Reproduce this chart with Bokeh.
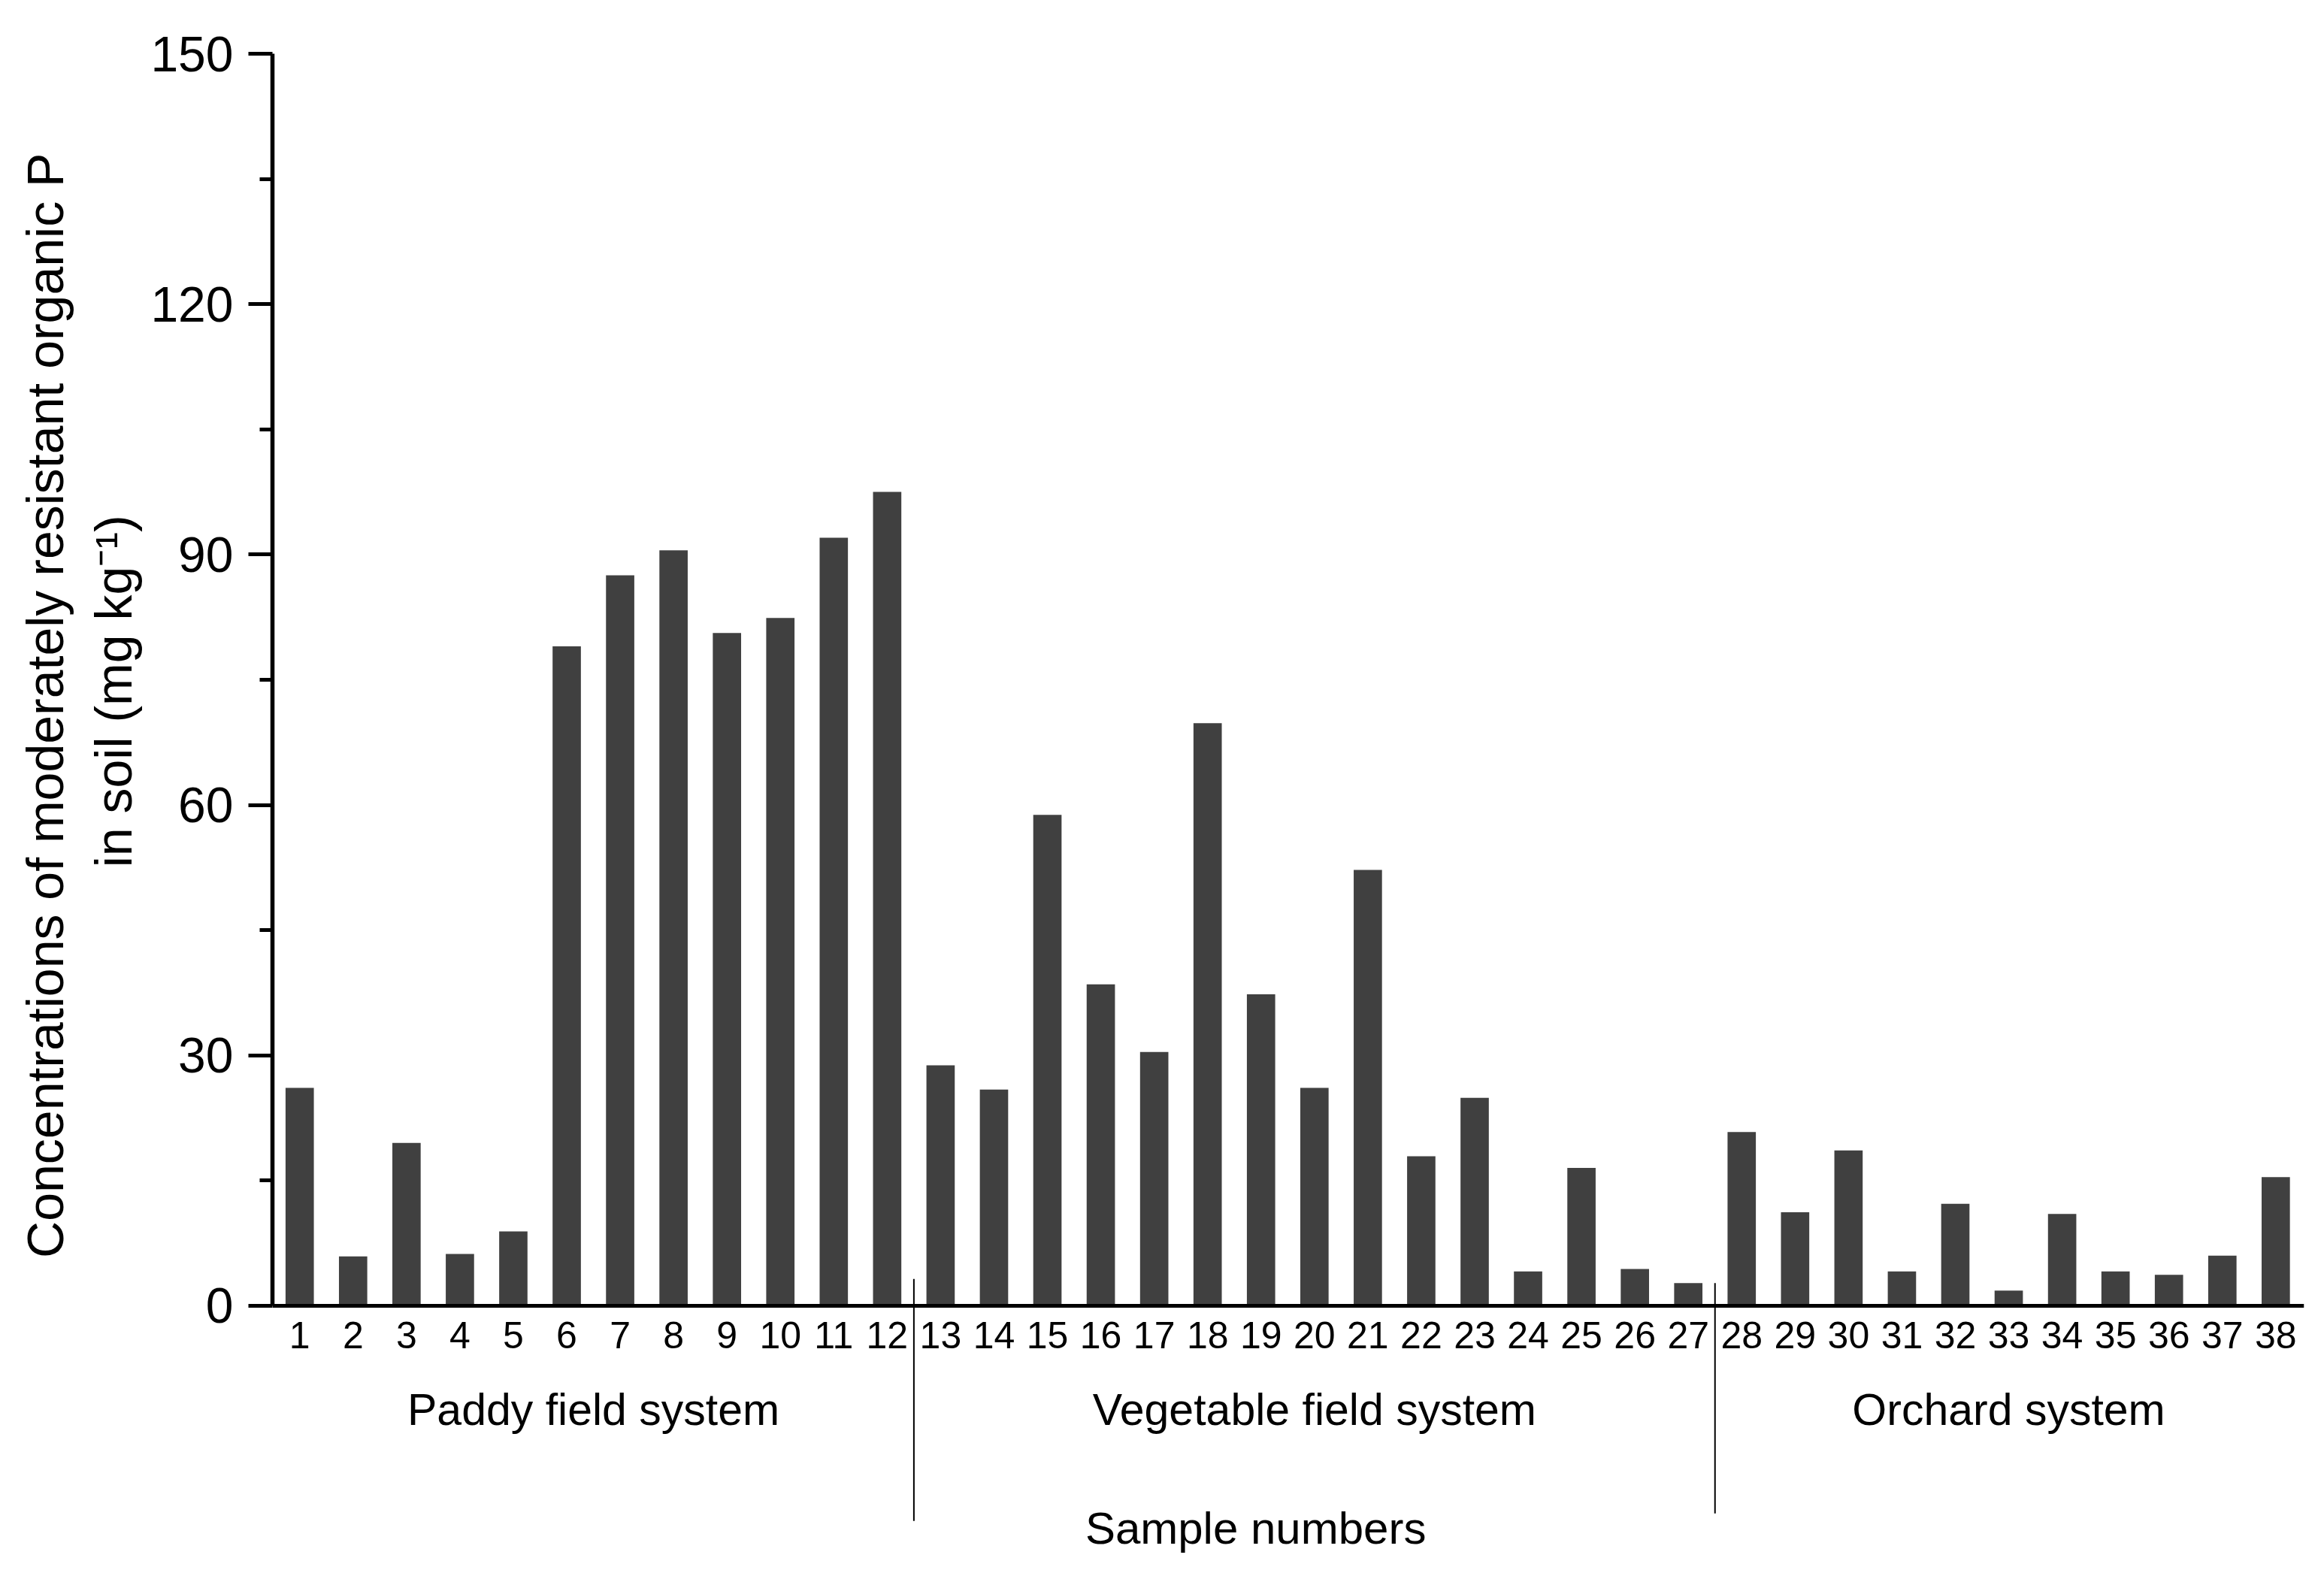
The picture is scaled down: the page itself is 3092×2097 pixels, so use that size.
from bokeh.plotting import figure
from bokeh.models import FixedTicker, Range1d, ColumnDataSource
from bokeh.core.properties import value
from bokeh.embed import file_html
from bokeh.resources import INLINE

# ---- data ----
samples = list(range(1, 39))
values = [26.1, 5.9, 19.5, 6.2, 8.9, 79.0, 87.5, 90.5, 80.6, 82.4, 92.0, 97.5,
          28.8, 25.9, 58.8, 38.5, 30.4, 69.8, 37.3, 26.1, 52.2, 17.9, 24.9, 4.1,
          16.5, 4.4, 2.7,
          20.8, 11.2, 18.6, 4.1, 12.2, 1.8, 11.0, 4.1, 3.7, 6.0, 15.4]
tick_labels = [str(s) for s in samples]
groups = ["Paddy field system", "Vegetable field system", "Orchard system"]
group_first = [1, 13, 28]
group_last = [12, 27, 38]
x_title = "Sample numbers"
y_title_1 = "Concentrations of moderately resistant organic P"
y_title_2 = "in soil (mg kg\u207b\u00b9)"
y_ticks = [0, 30, 60, 90, 120, 150]
y_minor = [15, 45, 75, 105, 135]

FONT = "Liberation Sans"
NB = "\u00a0"

src = ColumnDataSource(dict(x=samples, top=values))

p = figure(width=3076, height=2081, output_backend="svg", toolbar_location=None,
           x_range=Range1d(0.49, 38.53), y_range=Range1d(-30, 150),
           min_border_left=362, min_border_right=11, min_border_top=71,
           min_border_bottom=11)
p.outline_line_color = None
p.xgrid.visible = False
p.ygrid.visible = False
p.background_fill_color = "white"

p.vbar(x="x", top="top", width=0.53, source=src, fill_color="#404040",
       line_color=None)

# y axis
ya = p.yaxis[0]
ya.bounds = (0, 150)
ya.ticker = FixedTicker(ticks=y_ticks, minor_ticks=y_minor)
ya.axis_line_width = 5.5
ya.major_tick_line_width = 5
ya.minor_tick_line_width = 5
ya.major_tick_out = 32
ya.major_tick_in = 0
ya.minor_tick_out = 17
ya.minor_tick_in = 0
ya.major_label_text_font = FONT
ya.major_label_text_font_size = "66px"
ya.major_label_text_color = "black"
ya.major_label_standoff = 20
ya.axis_label = NB * 14 + y_title_1 + "\n" + NB * 16 + y_title_2
ya.axis_label_text_font = FONT
ya.axis_label_text_font_size = "68px"
ya.axis_label_text_font_style = "normal"
ya.axis_label_text_color = "black"
ya.axis_label_standoff = 8

# x axis, drawn at y = 0 inside the frame
xa = p.xaxis[0]
xa.fixed_location = 0
xa.ticker = FixedTicker(ticks=samples, minor_ticks=[])
xa.major_label_overrides = {s: lab for s, lab in zip(samples, tick_labels)}
xa.axis_line_width = 5
xa.major_tick_out = 0
xa.major_tick_in = 0
xa.minor_tick_out = 0
xa.minor_tick_in = 0
xa.major_label_text_font = FONT
xa.major_label_text_font_size = "50px"
xa.major_label_text_color = "black"
xa.major_label_standoff = 22

# group labels
gx = [(a + b) / 2 for a, b in zip(group_first, group_last)]
p.text(x=gx, y=[-12.5] * len(gx), text=groups, text_align="center",
       text_baseline="middle", text_font=value(FONT), text_font_size="59px",
       text_color="black")

# x-axis title
p.text(x=[18.9], y=[-26.65], text=[x_title], text_align="center",
       text_baseline="middle", text_font=value(FONT), text_font_size="60px",
       text_color="black")

# separators between groups
sep_x = [(b + a) / 2 for b, a in zip(group_last[:-1], group_first[1:])]
p.segment(x0=sep_x, y0=[3.2, 2.7], x1=sep_x, y1=[-25.8, -24.9],
          line_width=2, line_color="black")

open("out.html", "w").write(file_html(p, INLINE))
